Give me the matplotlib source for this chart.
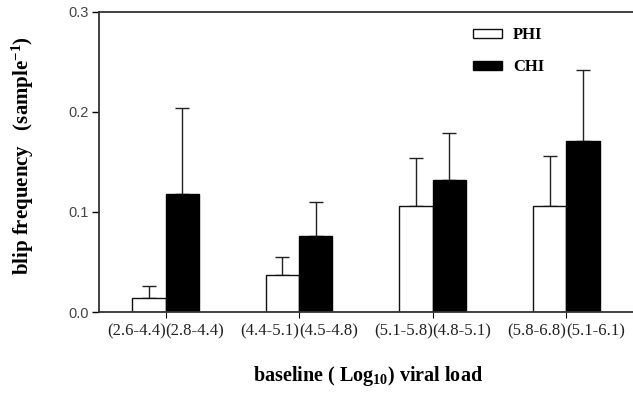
import matplotlib
matplotlib.use("Agg")
import matplotlib.pyplot as plt
import numpy as np

plt.rcParams["mathtext.fontset"] = "custom"
plt.rcParams["mathtext.rm"] = "Liberation Serif:bold"
plt.rcParams["mathtext.bf"] = "Liberation Serif:bold"
plt.rcParams["mathtext.it"] = "Liberation Serif:bold"

groups = ["G1", "G2", "G3", "G4"]
phi_labels = ["(2.6-4.4)", "(4.4-5.1)", "(5.1-5.8)", "(5.8-6.8)"]
chi_labels = ["(2.8-4.4)", "(4.5-4.8)", "(4.8-5.1)", "(5.1-6.1)"]
phi_vals = [0.014, 0.037, 0.106, 0.106]
phi_err = [0.012, 0.018, 0.048, 0.050]
chi_vals = [0.118, 0.076, 0.132, 0.171]
chi_err = [0.086, 0.034, 0.047, 0.071]
yticks = [0.0, 0.1, 0.2, 0.3]

fig = plt.figure(figsize=(6.33, 3.94), dpi=100)
ax = fig.add_axes([0.156, 0.208, 0.844, 0.762])

x = np.arange(len(groups))
w = 0.25
ekw = dict(elinewidth=1.0, capsize=5, capthick=1.0, ecolor="#222222")
ax.bar(x - w / 2, phi_vals, w, color="white", edgecolor="#111111", linewidth=1.0,
       label="PHI", zorder=2)
ax.errorbar(x - w / 2, phi_vals, yerr=[np.zeros(4), phi_err], fmt="none", zorder=1, **ekw)
ax.bar(x + w / 2, chi_vals, w, color="black", edgecolor="black", linewidth=1.0,
       label="CHI", zorder=2)
ax.errorbar(x + w / 2, chi_vals, yerr=[np.zeros(4), chi_err], fmt="none", zorder=1, **ekw)

ax.set_xlim(-0.5, 3.5)
ax.set_ylim(0, 0.3)
ax.set_yticks(yticks)
ax.set_yticklabels([f"{v:.1f}" for v in yticks], fontsize=10.5, color="#444444",
                   family="Liberation Sans")
ax.set_xticks(x)
ax.set_xticklabels([])
ax.tick_params(axis="x", length=4, width=0.8, direction="out")
ax.tick_params(axis="y", length=5, width=1.0, direction="out", pad=2)

for xi, pl, cl in zip(x, phi_labels, chi_labels):
    ax.text(xi, -0.011, pl, ha="right", va="top", fontsize=12,
            family="Liberation Serif", color="#222222")
    ax.text(xi, -0.011, cl, ha="left", va="top", fontsize=12,
            family="Liberation Serif", color="#222222")

for s in ["left", "bottom", "top"]:
    ax.spines[s].set_linewidth(1.3)
    ax.spines[s].set_color("#333333")
ax.spines["right"].set_visible(False)

fig.text(0.036, 0.605, r"blip frequency   (sample$^{\mathregular{-1}}$)", rotation=90,
         ha="center", va="center", fontsize=15, fontweight="bold",
         family="Liberation Serif")
fig.text(0.582, 0.033, r"baseline ( Log$_{\mathregular{10}}$) viral load", ha="center",
         fontsize=14.5, fontweight="bold", family="Liberation Serif")

leg = ax.legend(loc="upper left", bbox_to_anchor=(0.688, 0.97), frameon=False,
                handlelength=1.75, handleheight=0.45, handletextpad=0.65,
                labelspacing=0.95, borderaxespad=0,
                prop=dict(family="Liberation Serif", weight="bold", size=12))

fig.savefig("out.png", dpi=100)
